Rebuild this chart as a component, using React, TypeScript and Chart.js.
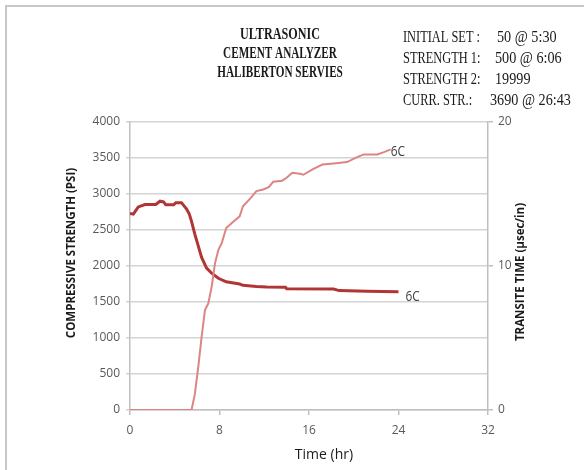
import React, { useEffect, useRef } from "react";
import { Chart, registerables } from "chart.js";

Chart.register(...registerables);

// Compressive strength (psi) vs time (hr)
const strengthHours = [0, 5.5, 5.8, 6.1, 6.4, 6.7, 7.0, 7.3, 7.6, 7.9, 8.2, 8.6, 9.1, 9.8, 10.1, 10.8, 11.3, 11.9, 12.4, 12.8, 13.6, 14.0, 14.5, 15.2, 15.5, 16.4, 17.2, 18.2, 19.4, 20.3, 20.9, 22.1, 22.7, 23.3];
const strengthPsi = [0, 0, 223, 595, 1014, 1387, 1480, 1712, 2039, 2225, 2318, 2528, 2598, 2690, 2830, 2947, 3040, 3062, 3095, 3170, 3185, 3225, 3294, 3280, 3267, 3350, 3410, 3424, 3443, 3512, 3550, 3550, 3582, 3619];

// Transit time (µsec/in) vs time (hr)
const transitHours = [0, 0.3, 0.74, 1.34, 2.3, 2.68, 3.0, 3.2, 3.9, 4.1, 4.6, 5.06, 5.3, 5.5, 5.8, 6.1, 6.4, 6.7, 6.85, 7.3, 7.9, 8.6, 9.8, 10.1, 11.3, 12.2, 13.9, 14.0, 18.2, 18.7, 21.2, 24.0];
const transitTime = [13.64, 13.6, 14.1, 14.27, 14.27, 14.5, 14.45, 14.25, 14.25, 14.4, 14.4, 13.95, 13.6, 13.1, 12.2, 11.4, 10.6, 10.1, 9.85, 9.5, 9.15, 8.9, 8.75, 8.66, 8.57, 8.54, 8.52, 8.42, 8.4, 8.29, 8.24, 8.22];

const titleLines = ["ULTRASONIC", "CEMENT ANALYZER", "HALIBERTON SERVIES"];
const infoLabels = ["INITIAL SET :", "STRENGTH 1:", "STRENGTH 2:", "CURR. STR.:"];
const infoValues = ["50 @ 5:30", "500 @ 6:06", "19999", "3690 @ 26:43"];
const seriesLabel = "6C";
const xTitle = "Time (hr)";
const yTitle = "COMPRESSIVE STRENGTH (PSI)";
const y1Title = "TRANSITE TIME (µsec/in)";

const LIGHT = "#dc8584";
const DARK = "#b23535";

const textPlugin = {
  id: "texts",
  afterDraw(chart: any) {
    const ctx = chart.ctx as CanvasRenderingContext2D;
    ctx.save();
    // Title block (condensed bold serif)
    ctx.fillStyle = "#1a1a1a";
    ctx.textBaseline = "middle";
    ctx.textAlign = "center";
    ctx.font = "bold 16px 'Liberation Serif'";
    const titleY = [35, 54, 73];
    titleLines.forEach((t, i) => {
      ctx.save();
      ctx.translate(280, titleY[i]);
      ctx.scale(i === 0 ? 0.76 : 0.7, 1);
      ctx.fillText(t, 0, 0);
      ctx.restore();
    });
    // Info block
    ctx.textAlign = "left";
    ctx.font = "16.5px 'Liberation Serif'";
    const infoY = [38, 59, 80, 101];
    const valX = [497, 495, 495, 490];
    infoLabels.forEach((t, i) => {
      ctx.save();
      ctx.translate(403, infoY[i]);
      ctx.scale(0.75, 1);
      ctx.fillText(t, 0, 0);
      ctx.restore();
      ctx.save();
      ctx.translate(valX[i], infoY[i]);
      ctx.scale(0.86, 1);
      ctx.fillText(infoValues[i], 0, 0);
      ctx.restore();
    });
    // Axis titles
    ctx.fillStyle = "#1a1a1a";
    ctx.font = "bold 11.5px 'Open Sans'";
    ctx.textAlign = "center";
    ctx.save();
    ctx.translate(72, 253);
    ctx.rotate(-Math.PI / 2);
    ctx.fillText(yTitle, 0, 0);
    ctx.restore();
    ctx.save();
    ctx.translate(521, 272);
    ctx.rotate(-Math.PI / 2);
    ctx.fillText(y1Title, 0, 0);
    ctx.restore();
    ctx.font = "14px 'Open Sans'";
    ctx.fillText(xTitle, 324, 455);
    // Series end labels
    const xs = chart.scales.x;
    const ys = chart.scales.y;
    const y1s = chart.scales.y1;
    ctx.fillStyle = "#404040";
    ctx.font = "14px 'Open Sans'";
    ctx.textAlign = "left";
    const ls = strengthHours.length - 1;
    ctx.save();
    ctx.translate(xs.getPixelForValue(strengthHours[ls]), ys.getPixelForValue(strengthPsi[ls]) + 3);
    ctx.scale(0.85, 1);
    ctx.fillText(seriesLabel, 0, 0);
    ctx.restore();
    const lt = transitHours.length - 1;
    ctx.save();
    ctx.translate(xs.getPixelForValue(transitHours[lt]) + 7, y1s.getPixelForValue(transitTime[lt]) + 5);
    ctx.scale(0.85, 1);
    ctx.fillText(seriesLabel, 0, 0);
    ctx.restore();
    ctx.restore();
  },
};

export default function App() {
  const ref = useRef<HTMLCanvasElement>(null);
  useEffect(() => {
    if (!ref.current) return;
    const tickFont = { family: "'Open Sans'", size: 12 };
    const plain = (v: any) => String(v);
    const chart = new Chart(ref.current, {
      type: "line",
      data: {
        datasets: [
          {
            label: "strength",
            data: strengthHours.map((h, i) => ({ x: h, y: strengthPsi[i] })),
            yAxisID: "y",
            borderColor: LIGHT,
            borderWidth: 2,
            pointRadius: 0,
            tension: 0,
          },
          {
            label: "transit",
            data: transitHours.map((h, i) => ({ x: h, y: transitTime[i] })),
            yAxisID: "y1",
            borderColor: DARK,
            borderWidth: 3,
            pointRadius: 0,
            tension: 0,
          },
        ],
      },
      options: {
        animation: false,
        responsive: false,
        devicePixelRatio: 1,
        layout: { padding: { top: 122, left: 0, right: 0, bottom: 0 } },
        plugins: { legend: { display: false }, tooltip: { enabled: false } },
        scales: {
          x: {
            type: "linear",
            min: 0,
            max: 32,
            ticks: { stepSize: 8, color: "#595959", font: tickFont, padding: 8, callback: plain },
            grid: { drawOnChartArea: false, tickLength: 5, color: "#bfbfbf", lineWidth: 1.5 },
            border: { color: "#bfbfbf", width: 1.5 },
            afterFit: (s: any) => { s.height = 60; },
          },
          y: {
            position: "left",
            min: 0,
            max: 4000,
            ticks: { stepSize: 500, color: "#595959", font: tickFont, padding: 6, callback: plain },
            grid: { color: "#d4d4d4", lineWidth: 1.5, tickLength: 4 },
            border: { color: "#bfbfbf", width: 1.5 },
            afterFit: (s: any) => { s.width = 130; },
          },
          y1: {
            position: "right",
            min: 0,
            max: 20,
            ticks: { stepSize: 10, color: "#595959", font: tickFont, padding: 5, callback: plain },
            grid: { drawOnChartArea: false, tickLength: 5, color: "#bfbfbf", lineWidth: 1.5 },
            border: { color: "#bfbfbf", width: 1.5 },
            afterFit: (s: any) => { s.width = 96; },
          },
        },
      },
      plugins: [textPlugin],
    } as any);
    return () => chart.destroy();
  }, []);
  return (
    <div style={{ position: "fixed", left: 0, top: 0, width: 584, height: 470, background: "#fff" }}>
      <div style={{ position: "absolute", left: 5, top: 5, right: 0, bottom: 0, borderLeft: "2px solid #c8c8c8", borderTop: "2px solid #c8c8c8" }} />
      <canvas ref={ref} width={584} height={470} style={{ position: "absolute", left: 0, top: 0, width: 584, height: 470 }} />
    </div>
  );
}
